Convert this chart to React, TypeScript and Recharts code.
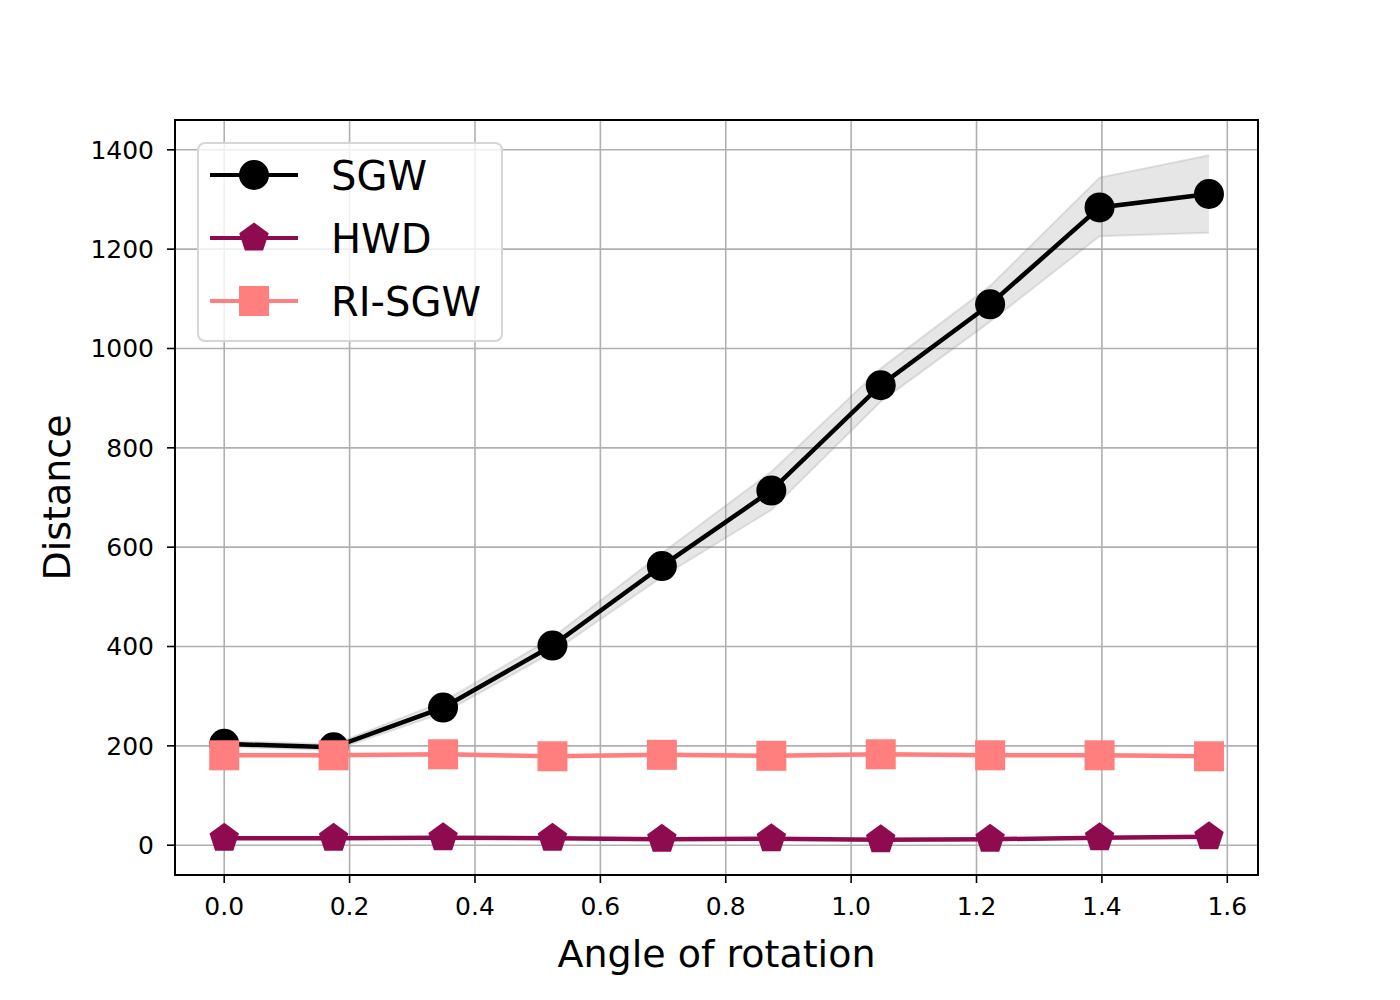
import {
  ComposedChart,
  Line,
  Area,
  XAxis,
  YAxis,
  CartesianGrid,
  Legend,
  ReferenceArea,
  Label,
} from "recharts";

// angle of rotation: 0°, 10°, ..., 90° in radians
const angles = [0, 0.1745, 0.3491, 0.5236, 0.6981, 0.8727, 1.0472, 1.2217, 1.3963, 1.5708];

const sgwMean = [204, 197, 277, 402, 562, 714, 926, 1089, 1284, 1311];
const sgwLow = [198, 191, 266, 388, 540, 675, 893, 1054, 1226, 1233];
const sgwHigh = [210, 203, 289, 418, 588, 752, 960, 1126, 1344, 1389];

const hwdMean = [14, 14, 15, 14, 12, 13, 11, 12, 15, 17];
const hwdLow = [12, 12, 13, 12, 10, 11, 9, 10, 13, 15];
const hwdHigh = [16, 16, 17, 16, 14, 15, 13, 14, 17, 19];

const riMean = [181, 181, 183, 179, 182, 180, 183, 181, 181, 179];
const riLow = [177, 177, 179, 175, 178, 176, 179, 177, 177, 175];
const riHigh = [185, 185, 187, 183, 186, 184, 187, 185, 185, 183];

const xTicks = [0, 0.2, 0.4, 0.6, 0.8, 1.0, 1.2, 1.4, 1.6];
const yTicks = [0, 200, 400, 600, 800, 1000, 1200, 1400];

const X_DOMAIN: [number, number] = [-0.0785, 1.649];
const Y_DOMAIN: [number, number] = [-60, 1460];

const FONT = "'DejaVu Sans', sans-serif";
const HWD_COLOR = "#8f0b4f";
const RI_COLOR = "#ff7f7f";

const data = angles.map((a, i) => ({
  angle: a,
  sgw: sgwMean[i],
  sgwBand: [sgwLow[i], sgwHigh[i]],
  hwd: hwdMean[i],
  hwdBand: [hwdLow[i], hwdHigh[i]],
  ri: riMean[i],
  riBand: [riLow[i], riHigh[i]],
}));

function pentagonPoints(cx: number, cy: number, r: number) {
  const pts = [];
  for (let k = 0; k < 5; k++) {
    const t = ((-90 + 72 * k) * Math.PI) / 180;
    pts.push(`${cx + r * Math.cos(t)},${cy + r * Math.sin(t)}`);
  }
  return pts.join(" ");
}

const Circle = (cx: number, cy: number, key?: string) => (
  <circle key={key} cx={cx} cy={cy} r={15} fill="#000" />
);
const Pentagon = (cx: number, cy: number, key?: string) => (
  <polygon key={key} points={pentagonPoints(cx, cy, 15.5)} fill={HWD_COLOR} />
);
const Square = (cx: number, cy: number, key?: string) => (
  <rect key={key} x={cx - 15} y={cy - 15} width={30} height={30} fill={RI_COLOR} />
);

const series = [
  { name: "SGW", color: "#000", marker: Circle },
  { name: "HWD", color: HWD_COLOR, marker: Pentagon },
  { name: "RI-SGW", color: RI_COLOR, marker: Square },
];

function LegendBox() {
  return (
    <div
      style={{
        width: 306,
        height: 200,
        boxSizing: "border-box",
        border: "2px solid #d6d6d6",
        borderRadius: 8,
        background: "rgba(255,255,255,0.8)",
      }}
    >
      <svg width={302} height={196} style={{ display: "block" }}>
        {series.map((s, i) => {
          const y = 31 + i * 63;
          return (
            <g key={s.name}>
              <line x1={11} x2={99} y1={y} y2={y} stroke={s.color} strokeWidth={4} />
              {s.marker(55, y)}
              <text x={132} y={y + 15} fontSize={40} fontFamily={FONT} fill="#000">
                {s.name}
              </text>
            </g>
          );
        })}
      </svg>
    </div>
  );
}

export default function App() {
  return (
    <div style={{ position: "absolute", left: 0, top: 0, background: "#fff" }}>
      <ComposedChart
        width={1400}
        height={1000}
        data={data}
        margin={{ top: 120, right: 142, bottom: 33, left: 75 }}
      >
        <CartesianGrid stroke="#b0b0b0" strokeWidth={1.6} />
        <XAxis
          dataKey="angle"
          type="number"
          domain={X_DOMAIN}
          ticks={xTicks}
          allowDataOverflow
          tickFormatter={(v: number) => v.toFixed(1)}
          height={92}
          tick={{ fontSize: 25, fill: "#000", fontFamily: FONT }}
          tickSize={8}
          tickMargin={14}
          tickLine={{ stroke: "#000", strokeWidth: 1.6 }}
          axisLine={{ stroke: "#000", strokeWidth: 2 }}
        >
          <Label
            value="Angle of rotation"
            position="insideBottom"
            offset={0}
            style={{ fontSize: 38, fill: "#000", fontFamily: FONT }}
          />
        </XAxis>
        <YAxis
          type="number"
          domain={Y_DOMAIN}
          ticks={yTicks}
          allowDataOverflow
          width={100}
          tick={{ fontSize: 25, fill: "#000", fontFamily: FONT }}
          tickSize={8}
          tickMargin={13}
          tickLine={{ stroke: "#000", strokeWidth: 1.6 }}
          axisLine={{ stroke: "#000", strokeWidth: 2 }}
        >
          <Label
            content={({ viewBox }: any) => {
              const cx = viewBox.x - 18;
              const cy = viewBox.y + viewBox.height / 2;
              return (
                <text
                  x={cx}
                  y={cy}
                  transform={`rotate(-90 ${cx} ${cy})`}
                  textAnchor="middle"
                  dominantBaseline="central"
                  fontSize={38}
                  fontFamily={FONT}
                  fill="#000"
                >
                  Distance
                </text>
              );
            }}
          />
        </YAxis>

        <Area
          dataKey="sgwBand"
          type="linear"
          fill="gray"
          fillOpacity={0.2}
          stroke="gray"
          strokeOpacity={0.2}
          strokeWidth={2}
          legendType="none"
          isAnimationActive={false}
          activeDot={false}
        />
        <Area
          dataKey="hwdBand"
          type="linear"
          fill={HWD_COLOR}
          fillOpacity={0.2}
          stroke="none"
          legendType="none"
          isAnimationActive={false}
          activeDot={false}
        />
        <Area
          dataKey="riBand"
          type="linear"
          fill={RI_COLOR}
          fillOpacity={0.2}
          stroke="none"
          legendType="none"
          isAnimationActive={false}
          activeDot={false}
        />

        <Line
          dataKey="sgw"
          name="SGW"
          type="linear"
          stroke="#000"
          strokeWidth={4.5}
          dot={(p: any) => Circle(p.cx, p.cy, `sgw-${p.index}`)}
          activeDot={false}
          isAnimationActive={false}
        />
        <Line
          dataKey="hwd"
          name="HWD"
          type="linear"
          stroke={HWD_COLOR}
          strokeWidth={4.5}
          dot={(p: any) => Pentagon(p.cx, p.cy, `hwd-${p.index}`)}
          activeDot={false}
          isAnimationActive={false}
        />
        <Line
          dataKey="ri"
          name="RI-SGW"
          type="linear"
          stroke={RI_COLOR}
          strokeWidth={4.5}
          dot={(p: any) => Square(p.cx, p.cy, `ri-${p.index}`)}
          activeDot={false}
          isAnimationActive={false}
        />

        {/* axes frame on all four sides */}
        <ReferenceArea
          x1={X_DOMAIN[0]}
          x2={X_DOMAIN[1]}
          y1={Y_DOMAIN[0]}
          y2={Y_DOMAIN[1]}
          fill="none"
          stroke="#000"
          strokeWidth={2}
          ifOverflow="visible"
        />

        <Legend
          layout="vertical"
          align="center"
          verticalAlign="middle"
          content={() => <LegendBox />}
          wrapperStyle={{ position: "absolute", left: 197, top: 142, width: 306, height: 200 }}
        />
      </ComposedChart>
    </div>
  );
}
